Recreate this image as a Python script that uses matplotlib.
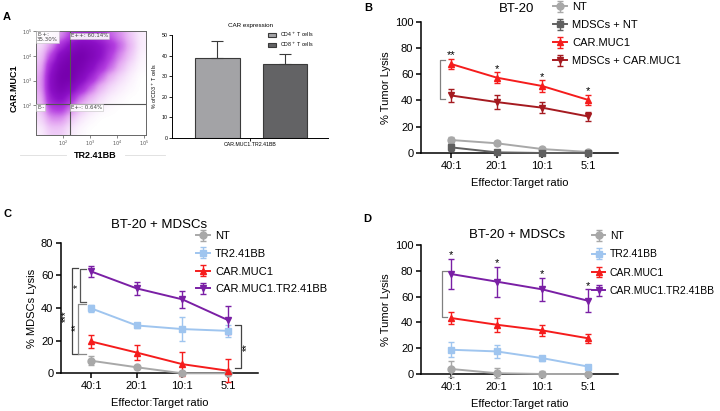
import numpy as np
import matplotlib.pyplot as plt
from matplotlib.colors import LinearSegmentedColormap

plt.rcParams['font.family'] = ['Liberation Sans', 'DejaVu Sans']

ratios = ['40:1', '20:1', '10:1', '5:1']

# panel A, flow plot: rough cell density read off the dot cloud (rows top -> bottom)
flow_density = [
    [0.05, 0.15, 0.30, 0.50, 0.60, 0.60, 0.55, 0.40, 0.30, 0.15, 0.05],
    [0.10, 0.30, 0.60, 0.80, 0.90, 0.85, 0.75, 0.60, 0.40, 0.20, 0.05],
    [0.15, 0.50, 0.85, 0.95, 1.00, 0.90, 0.75, 0.50, 0.30, 0.15, 0.03],
    [0.20, 0.70, 0.95, 1.00, 0.95, 0.80, 0.60, 0.40, 0.20, 0.08, 0.02],
    [0.25, 0.80, 1.00, 1.00, 0.85, 0.65, 0.40, 0.20, 0.10, 0.04, 0.00],
    [0.25, 0.80, 0.95, 0.85, 0.65, 0.40, 0.20, 0.10, 0.05, 0.02, 0.00],
    [0.20, 0.70, 0.80, 0.60, 0.35, 0.20, 0.10, 0.04, 0.02, 0.00, 0.00],
    [0.15, 0.50, 0.55, 0.35, 0.15, 0.07, 0.03, 0.01, 0.00, 0.00, 0.00],
    [0.10, 0.30, 0.30, 0.15, 0.06, 0.02, 0.00, 0.00, 0.00, 0.00, 0.00],
    [0.05, 0.15, 0.15, 0.06, 0.02, 0.00, 0.00, 0.00, 0.00, 0.00, 0.00],
]
quad_labels = ['E-+:\n35.30%', 'E++: 60.14%', 'E--', 'E+-: 0.64%']
flow_ticks = [2, 3, 4, 5]

# panel A, bars
bar_groups = ['CD4$^+$ T cells', 'CD8$^+$ T cells']
bar_vals = [38.7, 35.9]
bar_err = [8.5, 4.7]

# panel B
b_nt = [9.9, 7.4, 3.0, 0.8]
b_nt_err = [2.0, 1.5, 1.2, 0.8]
b_mdsc_nt = [4.3, 0.5, 0.0, 0.0]
b_mdsc_nt_err = [2.5, 1.5, 1.5, 1.5]
b_car = [67.8, 57.4, 51.0, 40.5]
b_car_err = [3.8, 4.0, 4.4, 4.0]
b_mdsc_car = [43.8, 38.8, 34.5, 27.9]
b_mdsc_car_err = [4.9, 5.0, 4.0, 3.6]
b_stars = ['**', '*', '*', '*']

# panel C
c_nt = [7.7, 3.7, 0.0, 0.0]
c_nt_err = [2.8, 1.0, 0.8, 0.8]
c_tr = [39.8, 29.3, 27.1, 26.0]
c_tr_err = [2.2, 1.5, 7.6, 3.8]
c_car = [19.5, 12.7, 5.6, 1.6]
c_car_err = [4.1, 4.5, 7.3, 7.0]
c_dual = [62.4, 52.0, 45.3, 32.6]
c_dual_err = [3.5, 3.8, 5.2, 8.4]

# panel D
d_nt = [3.9, 0.6, 0.0, 0.0]
d_nt_err = [6.0, 4.0, 2.0, 1.0]
d_tr = [18.8, 17.5, 12.3, 5.8]
d_tr_err = [6.0, 4.8, 2.0, 1.2]
d_car = [43.4, 38.2, 33.8, 27.7]
d_car_err = [5.0, 5.3, 4.4, 3.4]
d_dual = [77.5, 71.6, 65.6, 56.8]
d_dual_err = [11.7, 11.6, 9.0, 8.8]
d_stars = ['*', '*', '*', '*']

GREY = '#a8a8a8'
DGREY = '#606060'
RED = '#f51c1c'
DRED = '#a51a20'
BLUE = '#9fc5ef'
PURPLE = '#7a1fa5'

fig = plt.figure(figsize=(7.2, 4.11), dpi=100)


def px(x, y, w, h):
    # pixel box (left, top, width, height) -> figure fraction
    return [x / 720, 1 - (y + h) / 411, w / 720, h / 411]


def lysis_panel(ax, series, ymax, ystep, ylabel):
    for vals, errs, color, marker, label in series:
        ax.errorbar(range(len(ratios)), vals, yerr=errs, color=color, marker=marker,
                    ms=5, lw=1.4, elinewidth=1, capsize=2.4, capthick=1,
                    label=label, clip_on=False, zorder=3)
    ax.set_xlim(-0.66, 3.66)
    ax.set_ylim(0, ymax)
    ax.set_yticks(np.arange(0, ymax + 1, ystep))
    ax.set_xticks(range(len(ratios)), ratios)
    ax.spines[['top', 'right']].set_visible(False)
    for s in ['left', 'bottom']:
        ax.spines[s].set_linewidth(1.1)
    ax.tick_params(length=3.5, width=1.1, labelsize=8, pad=2)
    ax.set_ylabel(ylabel, fontsize=8, labelpad=3)
    ax.set_xlabel('Effector:Target ratio', fontsize=8, labelpad=5)


def bracket(ax, x, y0, y1, tick, color='#808080'):
    ax.plot([x + tick, x, x, x + tick], [y0, y0, y1, y1], color=color, lw=0.9,
            clip_on=False)


def legend_at(ax, x, y, size, spacing):
    ax.legend(frameon=False, fontsize=size, loc='upper left',
              bbox_to_anchor=(x / 720, 1 - y / 411), bbox_transform=fig.transFigure,
              handlelength=1.25, handletextpad=0.45, labelspacing=spacing,
              borderaxespad=0, borderpad=0)


# ---------- A: flow plot ----------
ax_f = fig.add_axes(px(36, 31, 110, 104))
cmap = LinearSegmentedColormap.from_list(
    'flow', ['#ffffff', '#e4a8f2', '#b43fe0', '#8c10c6', '#7600ad'])
ax_f.imshow(flow_density, extent=(1, 5.07, 0.8, 5.0), origin='upper',
            cmap=cmap, vmin=0, vmax=1, aspect='auto', interpolation='gaussian')
ax_f.axvline(2.26, color='#555555', lw=0.8)
ax_f.axhline(2.06, color='#555555', lw=0.8)
ax_f.set_xlim(1, 5.07)
ax_f.set_ylim(0.8, 5.0)
ax_f.set_xticks(flow_ticks, [f'$10^{t}$' for t in flow_ticks])
ax_f.set_yticks(flow_ticks, [f'$10^{t}$' for t in flow_ticks])
ax_f.tick_params(labelsize=3.5, length=2, width=0.5, pad=1, colors='#555555')
for s in ax_f.spines.values():
    s.set_linewidth(0.7)
    s.set_color('#666666')
box = dict(facecolor='white', edgecolor='#bbbbbb', lw=0.4, pad=0.6, alpha=0.9)
qpos = [(1.04, 4.96), (2.3, 4.9), (1.04, 2.0), (2.3, 2.0)]
for (qx, qy), lab in zip(qpos, quad_labels):
    ax_f.text(qx, qy, lab, fontsize=4, ha='left', va='top', color='#444444',
              family='DejaVu Sans', bbox=box, linespacing=1.1)
fig.text(14 / 720, 1 - 88 / 411, 'CAR.MUC1', rotation=90, fontsize=6.5,
         fontweight='bold', ha='center', va='center')
fig.text(95 / 720, 1 - 155 / 411, 'TR2.41BB', fontsize=6.5, fontweight='bold',
         ha='center', va='center')
fig.add_artist(plt.Line2D([20 / 720, 66 / 720], [1 - 155 / 411] * 2,
                          color='#dddddd', lw=0.6))
fig.add_artist(plt.Line2D([125 / 720, 165 / 720], [1 - 155 / 411] * 2,
                          color='#dddddd', lw=0.6))

# ---------- A: bar chart ----------
ax_b = fig.add_axes(px(172, 35, 156, 103))
ax_b.bar([0, 1], bar_vals, width=0.66, color=['#a3a3a6', '#636365'],
         edgecolor='#3a3a3a', lw=0.8, label=bar_groups)
ax_b.errorbar([0, 1], bar_vals, yerr=[[0, 0], bar_err], fmt='none',
              ecolor='#3a3a3a', elinewidth=0.8, capsize=4.5, capthick=0.8)
ax_b.set_xlim(-0.674, 1.637)
ax_b.set_ylim(0, 50)
ax_b.set_yticks(range(0, 51, 10))
ax_b.set_xticks([0.48], ['CAR.MUC1.TR2.41BB'])
ax_b.spines[['top', 'right']].set_visible(False)
ax_b.spines[['left', 'bottom']].set_linewidth(0.7)
ax_b.tick_params(labelsize=3.8, length=2, width=0.6, pad=1)
ax_b.set_ylabel('% of CD3$^+$ T cells', fontsize=3.8, labelpad=2)
ax_b.set_title('CAR expression', fontsize=4.5, pad=6)
ax_b.legend(fontsize=3.8, frameon=False, loc='upper left',
            bbox_to_anchor=(0.6, 1.07), handlelength=1.6, handleheight=0.6,
            labelspacing=0.2, borderaxespad=0)

# ---------- B ----------
ax_B = fig.add_axes(px(421, 21.7, 197, 131.3))
lysis_panel(ax_B, [
    (b_nt, b_nt_err, GREY, 'o', 'NT'),
    (b_mdsc_nt, b_mdsc_nt_err, DGREY, 's', 'MDSCs + NT'),
    (b_car, b_car_err, RED, '^', 'CAR.MUC1'),
    (b_mdsc_car, b_mdsc_car_err, DRED, 'v', 'MDSCs + CAR.MUC1'),
], 100, 20, '% Tumor Lysis')
for i, s in enumerate(b_stars):
    ax_B.text(i, b_car[i] + b_car_err[i] + 0.5, s, fontsize=8, ha='center',
              va='baseline')
bracket(ax_B, -0.243, b_car[0] + 3, b_mdsc_car[0] - 2.5, 0.11)
fig.text(517 / 720, 1 - 12 / 411, 'BT-20', fontsize=9.5, ha='center', va='baseline')
legend_at(ax_B, 553, 2, 8, 0.73)

# ---------- C ----------
ax_C = fig.add_axes(px(61, 242.7, 197, 130.6))
lysis_panel(ax_C, [
    (c_nt, c_nt_err, GREY, 'o', 'NT'),
    (c_tr, c_tr_err, BLUE, 's', 'TR2.41BB'),
    (c_car, c_car_err, RED, '^', 'CAR.MUC1'),
    (c_dual, c_dual_err, PURPLE, 'v', 'CAR.MUC1.TR2.41BB'),
], 80, 20, '% MDSCs Lysis')
bracket(ax_C, -0.425, 64.7, 11.8, 0.13, '#444444')
bracket(ax_C, -0.243, 63.9, 43.8, 0.125, '#555555')
bracket(ax_C, -0.294, 42.3, 11.8, 0.176, '#888888')
bracket(ax_C, 3.281, 29.6, 3.1, -0.125, '#444444')
for tx, ty, s in [(-0.56, 34.7, '***'), (-0.30, 53.5, '*'),
                  (-0.33, 28.5, '**'), (3.41, 16.3, '**')]:
    ax_C.text(tx, ty, s, fontsize=7, rotation=90, ha='center', va='center')
fig.text(159 / 720, 1 - 228 / 411, 'BT-20 + MDSCs', fontsize=9.5, ha='center',
         va='baseline')
legend_at(ax_C, 196, 231, 8, 0.7)

# ---------- D ----------
ax_D = fig.add_axes(px(421, 245, 197, 129))
lysis_panel(ax_D, [
    (d_nt, d_nt_err, GREY, 'o', 'NT'),
    (d_tr, d_tr_err, BLUE, 's', 'TR2.41BB'),
    (d_car, d_car_err, RED, '^', 'CAR.MUC1'),
    (d_dual, d_dual_err, PURPLE, 'v', 'CAR.MUC1.TR2.41BB'),
], 100, 20, '% Tumor Lysis')
for i, s in enumerate(d_stars):
    ax_D.text(i, d_dual[i] + d_dual_err[i] + 0.5, s, fontsize=8, ha='center',
              va='baseline')
bracket(ax_D, -0.206, d_dual[0] + 2.3, d_car[0] + 1, 0.11)
fig.text(517 / 720, 1 - 238 / 411, 'BT-20 + MDSCs', fontsize=9.5, ha='center',
         va='baseline')
legend_at(ax_D, 592, 231, 7.5, 0.8)

# panel letters
for lx, ly, lab in [(3, 17, 'A'), (364, 8, 'B'), (3, 214, 'C'), (363, 219, 'D')]:
    fig.text(lx / 720, 1 - ly / 411, lab, fontsize=8, fontweight='bold',
             ha='left', va='center')

fig.savefig('out.png', dpi=100)
